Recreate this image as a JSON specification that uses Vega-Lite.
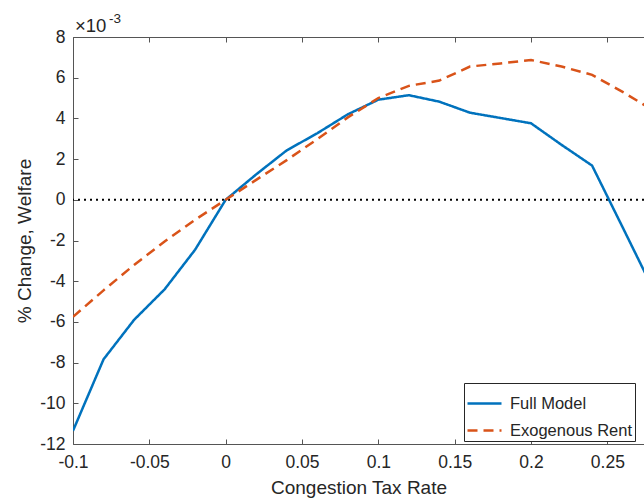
{
  "$schema": "https://vega.github.io/schema/vega-lite/v6.json",
  "width": 571,
  "height": 407,
  "autosize": {"type": "none"},
  "padding": {"left": 73, "top": 37, "right": 0, "bottom": 55},
  "background": "white",
  "config": {
    "view": {"stroke": null},
    "font": "Liberation Sans",
    "axis": {
      "grid": false,
      "domainColor": "#555555",
      "tickColor": "#555555",
      "labelColor": "#262626",
      "titleColor": "#262626",
      "labelFont": "Liberation Sans",
      "titleFont": "Liberation Sans",
      "labelFontSize": 17.5,
      "titleFontSize": 19,
      "titleFontWeight": "normal",
      "domainWidth": 1,
      "tickWidth": 1
    }
  },
  "datasets": {
    "curves": [
      {"x": -0.1, "y": -11.35, "series": "Full Model"},
      {"x": -0.08, "y": -7.84, "series": "Full Model"},
      {"x": -0.06, "y": -5.9, "series": "Full Model"},
      {"x": -0.04, "y": -4.4, "series": "Full Model"},
      {"x": -0.02, "y": -2.45, "series": "Full Model"},
      {"x": 0.0, "y": 0.0, "series": "Full Model"},
      {"x": 0.02, "y": 1.25, "series": "Full Model"},
      {"x": 0.04, "y": 2.43, "series": "Full Model"},
      {"x": 0.06, "y": 3.27, "series": "Full Model"},
      {"x": 0.08, "y": 4.2, "series": "Full Model"},
      {"x": 0.1, "y": 4.92, "series": "Full Model"},
      {"x": 0.12, "y": 5.14, "series": "Full Model"},
      {"x": 0.14, "y": 4.82, "series": "Full Model"},
      {"x": 0.16, "y": 4.28, "series": "Full Model"},
      {"x": 0.18, "y": 4.02, "series": "Full Model"},
      {"x": 0.2, "y": 3.76, "series": "Full Model"},
      {"x": 0.22, "y": 2.7, "series": "Full Model"},
      {"x": 0.24, "y": 1.68, "series": "Full Model"},
      {"x": 0.26, "y": -1.35, "series": "Full Model"},
      {"x": 0.28, "y": -4.4, "series": "Full Model"},
      {"x": -0.1, "y": -5.75, "series": "Exogenous Rent"},
      {"x": -0.08, "y": -4.45, "series": "Exogenous Rent"},
      {"x": -0.06, "y": -3.2, "series": "Exogenous Rent"},
      {"x": -0.04, "y": -2.05, "series": "Exogenous Rent"},
      {"x": -0.02, "y": -0.98, "series": "Exogenous Rent"},
      {"x": 0.0, "y": 0.0, "series": "Exogenous Rent"},
      {"x": 0.02, "y": 0.98, "series": "Exogenous Rent"},
      {"x": 0.04, "y": 1.95, "series": "Exogenous Rent"},
      {"x": 0.06, "y": 2.98, "series": "Exogenous Rent"},
      {"x": 0.08, "y": 4.05, "series": "Exogenous Rent"},
      {"x": 0.1, "y": 5.0, "series": "Exogenous Rent"},
      {"x": 0.12, "y": 5.6, "series": "Exogenous Rent"},
      {"x": 0.14, "y": 5.86, "series": "Exogenous Rent"},
      {"x": 0.16, "y": 6.55, "series": "Exogenous Rent"},
      {"x": 0.18, "y": 6.7, "series": "Exogenous Rent"},
      {"x": 0.2, "y": 6.87, "series": "Exogenous Rent"},
      {"x": 0.22, "y": 6.55, "series": "Exogenous Rent"},
      {"x": 0.24, "y": 6.14, "series": "Exogenous Rent"},
      {"x": 0.26, "y": 5.3, "series": "Exogenous Rent"},
      {"x": 0.28, "y": 4.4, "series": "Exogenous Rent"}
    ],
    "zero": [{"y": 0}],
    "expo": [{"x": -0.1, "y": 8, "base": "×10", "exp": "-3"}]
  },
  "layer": [
    {
      "data": {"name": "zero"},
      "mark": {"type": "rule", "color": "black", "strokeWidth": 2, "strokeDash": [2, 4]},
      "encoding": {
        "y": {"field": "y", "type": "quantitative", "scale": {"domain": [-12, 8]}}
      }
    },
    {
      "data": {"name": "curves"},
      "mark": {"type": "line", "strokeWidth": 2.5, "clip": true},
      "encoding": {
        "x": {
          "field": "x", "type": "quantitative",
          "scale": {"domain": [-0.1, 0.274], "nice": false, "zero": false},
          "axis": {
            "title": "Congestion Tax Rate",
            "values": [-0.1, -0.05, 0, 0.05, 0.1, 0.15, 0.2, 0.25],
            "labelExpr": "replace(format(datum.value, '~g'), '\u2212', '-')",
            "tickSize": -5,
            "labelPadding": 14,
            "titlePadding": 8,
            "labelFlush": false,
            "labelFontSize": 17.5,
            "titleFontSize": 19
          }
        },
        "y": {
          "field": "y", "type": "quantitative",
          "scale": {"domain": [-12, 8], "nice": false},
          "axis": {
            "title": "% Change, Welfare",
            "values": [-12, -10, -8, -6, -4, -2, 0, 2, 4, 6, 8],
            "labelExpr": "replace(format(datum.value, '~g'), '\u2212', '-')",
            "tickSize": -5,
            "labelPadding": 13,
            "titlePadding": 5,
            "labelFlush": false,
            "labelFontSize": 17.5,
            "titleFontSize": 19
          }
        },
        "color": {
          "field": "series", "type": "nominal",
          "scale": {"domain": ["Full Model", "Exogenous Rent"], "range": ["#0072BD", "#D95319"]},
          "legend": {
            "title": null,
            "orient": "none",
            "legendX": 391,
            "legendY": 346,
            "strokeColor": "#262626",
            "fillColor": "white",
            "padding": 2,
            "symbolType": "stroke",
            "symbolSize": 1156,
            "symbolStrokeWidth": 2.5,
            "labelFontSize": 16.5,
            "labelFont": "Liberation Sans",
            "labelColor": "#262626",
            "rowPadding": -15,
            "labelOffset": 7
          }
        },
        "strokeDash": {
          "field": "series", "type": "nominal",
          "scale": {"domain": ["Full Model", "Exogenous Rent"], "range": [[1, 0], [10, 6]]},
          "legend": {
            "title": null,
            "orient": "none",
            "legendX": 391,
            "legendY": 346,
            "strokeColor": "#262626",
            "fillColor": "white",
            "padding": 2,
            "symbolType": "stroke",
            "symbolSize": 1156,
            "symbolStrokeWidth": 2.5,
            "labelFontSize": 16.5,
            "labelFont": "Liberation Sans",
            "labelColor": "#262626",
            "rowPadding": -15,
            "labelOffset": 7
          }
        }
      }
    },
    {
      "data": {"name": "expo"},
      "mark": {"type": "text", "align": "left", "baseline": "alphabetic", "fontSize": 18.5, "dx": 2, "dy": -5, "color": "#262626", "clip": false},
      "encoding": {
        "x": {
          "field": "x", "type": "quantitative",
          "axis": {
            "orient": "top",
            "title": null,
            "labels": false,
            "values": [-0.1, -0.05, 0, 0.05, 0.1, 0.15, 0.2, 0.25],
            "tickSize": -5
          }
        },
        "y": {"field": "y", "type": "quantitative"},
        "text": {"field": "base"}
      }
    },
    {
      "data": {"name": "expo"},
      "mark": {"type": "text", "align": "left", "baseline": "alphabetic", "fontSize": 13.5, "dx": 36, "dy": -14, "color": "#262626", "clip": false},
      "encoding": {
        "x": {"field": "x", "type": "quantitative", "axis": null},
        "y": {"field": "y", "type": "quantitative"},
        "text": {"field": "exp"}
      }
    }
  ],
  "resolve": {"axis": {"x": "independent"}}
}
